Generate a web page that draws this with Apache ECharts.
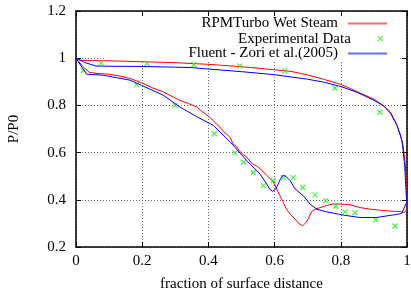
<!DOCTYPE html>
<html>
<head>
<meta charset="utf-8">
<script src="https://cdn.jsdelivr.net/npm/echarts@6/dist/echarts.min.js"></script>
<style>html,body{margin:0;padding:0;background:#fff;}#c{width:411px;height:291px;}</style>
</head>
<body>
<div id="c"></div>
<script>
const seriesNames = ['RPMTurbo Wet Steam', 'Experimental Data', 'Fluent - Zori et al.(2005)'];
const xTicks = [0, 0.2, 0.4, 0.6, 0.8, 1];
const yTicks = [0.2, 0.4, 0.6, 0.8, 1, 1.2];

// RPMTurbo: loop along upper surface to trailing edge, back along lower surface
const rpmUpper = [[0,1.0],[0.012,0.991],[0.05,0.990],[0.1,0.989],[0.2,0.985],[0.3,0.981],[0.4,0.974],[0.5,0.964],[0.6,0.951],[0.65,0.944],[0.7,0.929],[0.75,0.910],[0.8,0.889],[0.85,0.858],[0.9,0.826],[0.93,0.798],[0.95,0.772],[0.965,0.73],[0.978,0.685],[0.988,0.63],[0.995,0.55],[0.999,0.45],[1.0,0.40],[1.0,0.36]];
const rpmLower = [[0.993,0.346],[0.979,0.350],[0.95,0.352],[0.918,0.356],[0.885,0.361],[0.858,0.367],[0.828,0.379],[0.8,0.382],[0.775,0.382],[0.757,0.376],[0.74,0.368],[0.722,0.360],[0.712,0.350],[0.70,0.315],[0.692,0.300],[0.685,0.290],[0.675,0.297],[0.662,0.318],[0.647,0.339],[0.636,0.360],[0.626,0.389],[0.616,0.417],[0.605,0.45],[0.596,0.477],[0.586,0.490],[0.575,0.505],[0.565,0.52],[0.556,0.532],[0.545,0.545],[0.535,0.550],[0.525,0.565],[0.516,0.580],[0.505,0.592],[0.495,0.605],[0.485,0.625],[0.475,0.636],[0.465,0.665],[0.455,0.678],[0.445,0.690],[0.435,0.708],[0.425,0.720],[0.415,0.736],[0.405,0.748],[0.39,0.765],[0.38,0.775],[0.365,0.793],[0.34,0.808],[0.314,0.821],[0.29,0.838],[0.264,0.857],[0.23,0.875],[0.2,0.895],[0.163,0.914],[0.13,0.925],[0.1,0.932],[0.06,0.936],[0.04,0.940],[0.02,0.966],[0,1.0]];

// Fluent - Zori et al.
const fluentUpper = [[0,1.0],[0.03,0.98],[0.06,0.967],[0.1,0.966],[0.2,0.965],[0.3,0.962],[0.35,0.960],[0.4,0.954],[0.5,0.943],[0.6,0.930],[0.7,0.911],[0.75,0.898],[0.8,0.880],[0.85,0.855],[0.9,0.822],[0.93,0.797],[0.95,0.767],[0.97,0.715],[0.985,0.651],[0.993,0.545],[0.997,0.44],[0.999,0.39]];
const fluentLower = [[0.994,0.382],[0.984,0.342],[0.959,0.336],[0.908,0.325],[0.858,0.325],[0.808,0.335],[0.757,0.349],[0.727,0.360],[0.707,0.382],[0.687,0.417],[0.662,0.446],[0.647,0.481],[0.636,0.497],[0.626,0.505],[0.618,0.49],[0.611,0.467],[0.603,0.445],[0.594,0.436],[0.585,0.445],[0.575,0.47],[0.566,0.488],[0.556,0.509],[0.516,0.566],[0.465,0.646],[0.415,0.715],[0.365,0.752],[0.314,0.793],[0.264,0.843],[0.198,0.885],[0.163,0.907],[0.082,0.928],[0.032,0.932],[0,1.0]];

// Experimental data
const expData = [[0.022,0.949],[0.076,0.979],[0.183,0.888],[0.215,0.977],[0.299,0.800],[0.356,0.973],[0.418,0.680],[0.480,0.599],[0.495,0.967],[0.506,0.559],[0.536,0.516],[0.566,0.460],[0.596,0.481],[0.626,0.494],[0.631,0.946],[0.656,0.494],[0.685,0.452],[0.722,0.421],[0.755,0.396],[0.782,0.874],[0.785,0.374],[0.813,0.349],[0.843,0.345],[0.905,0.315],[0.918,0.771],[0.964,0.289]];

const FONT = 'Liberation Serif';
const FS = 15;
const chart = echarts.init(document.getElementById('c'), null, {renderer: 'canvas'});
const gridLine = {show: true, lineStyle: {color: '#666', type: [1, 2], width: 1}};
const axisLine = {show: true, onZero: false, lineStyle: {color: '#000', width: 1.5}};
const tick = {show: true, inside: true, length: 5, lineStyle: {color: '#000', width: 1}};
const lbl = {fontFamily: FONT, fontSize: FS, color: '#000'};
const legendBase = {orient: 'vertical', align: 'right', right: 23, padding: 0, itemWidth: 39, itemHeight: 14,
  selectedMode: false, textStyle: {fontFamily: FONT, fontSize: FS, color: '#000', padding: [0, 5, 0, 0]}};

chart.setOption({
  animation: false,
  backgroundColor: '#fff',
  grid: {left: 76, right: 4, top: 11, bottom: 44, outerBoundsMode: 'none', containLabel: false},
  xAxis: [
    {type: 'value', min: 0, max: 1, interval: 0.2, position: 'bottom',
     name: 'fraction of surface distance', nameLocation: 'middle', nameGap: 30,
     nameTextStyle: {fontFamily: FONT, fontSize: FS, color: '#000'},
     axisLine: axisLine, axisTick: tick, splitLine: gridLine,
     axisLabel: Object.assign({margin: 7, formatter: v => xTicks.includes(+v.toFixed(1)) ? String(+v.toFixed(1)) : ''}, lbl)},
    {type: 'value', min: 0, max: 1, interval: 0.2, position: 'top',
     axisLine: axisLine, axisTick: tick, splitLine: {show: false}, axisLabel: {show: false}}
  ],
  yAxis: [
    {type: 'value', min: 0.2, max: 1.2, interval: 0.2, position: 'left',
     name: 'P/P0', nameLocation: 'middle', nameGap: 54,
     nameTextStyle: {fontFamily: FONT, fontSize: FS, color: '#000'},
     axisLine: axisLine, axisTick: tick, splitLine: gridLine,
     axisLabel: Object.assign({margin: 10, formatter: v => yTicks.includes(+v.toFixed(1)) ? String(+v.toFixed(1)) : ''}, lbl)},
    {type: 'value', min: 0.2, max: 1.2, interval: 0.2, position: 'right',
     axisLine: axisLine, axisTick: tick, splitLine: {show: false}, axisLabel: {show: false}}
  ],
  graphic: [{type: 'rect', z: 1, silent: true, shape: {x: 105, y: 16.5, width: 293, height: 43.5}, style: {fill: '#fff'}}],
  legend: [
    Object.assign({}, legendBase, {top: 16, data: [seriesNames[0]], itemStyle: {opacity: 0}, lineStyle: {width: 2, color: '#ff6a6a', opacity: 1}}),
    Object.assign({}, legendBase, {top: 31, data: [{name: seriesNames[1], icon: 'path://M0,0M14,14M4.5,4.5L9.5,9.5M9.5,4.5L4.5,9.5'}],
      itemStyle: {borderWidth: 1.3, borderColor: '#22ee22'}}),
    Object.assign({}, legendBase, {top: 46, data: [seriesNames[2]], itemStyle: {opacity: 0}, lineStyle: {width: 2, color: '#6a6aff', opacity: 1}})
  ],
  series: [
    {name: seriesNames[0], type: 'line', data: rpmUpper.concat(rpmLower), symbol: 'none', showSymbol: false,
     lineStyle: {color: '#ff0000', width: 1}, itemStyle: {color: '#ff0000'}, z: 2},
    {name: seriesNames[1], type: 'scatter', data: expData, symbol: 'path://M0,0L10,10M10,0L0,10', symbolSize: 5,
     itemStyle: {color: '#22ee22', borderColor: '#22ee22', borderWidth: 1.3}, z: 3},
    {name: seriesNames[2], type: 'line', data: fluentUpper.concat(fluentLower), symbol: 'none', showSymbol: false,
     lineStyle: {color: '#0000ff', width: 1}, itemStyle: {color: '#0000ff'}, z: 4}
  ]
});
</script>
</body>
</html>
